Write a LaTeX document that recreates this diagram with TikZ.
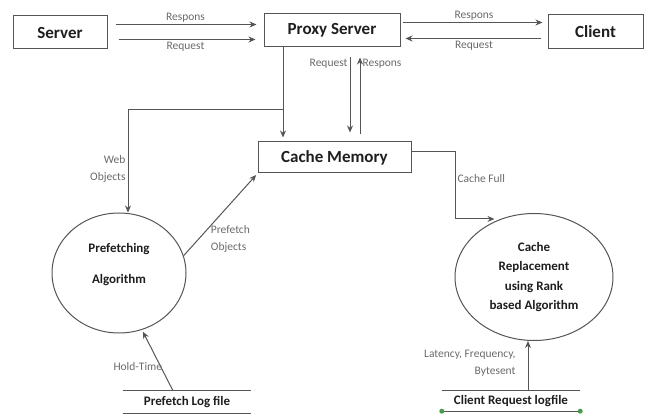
\documentclass[tikz,border=0pt]{standalone}
\usepackage{fontspec}
\setmainfont{Carlito}
\usepackage{tikz}
\usetikzlibrary{positioning}
\usetikzlibrary{shapes.geometric}
\usetikzlibrary{arrows.meta}
\definecolor{LINE}{HTML}{555555}
\definecolor{LABEL}{HTML}{6A6A6A}
\definecolor{TEXT}{HTML}{1E1E1E}
\definecolor{HANDLE}{HTML}{4C9A4C}
\tikzset{
	box/.style = {draw=LINE, line width=1pt, text=TEXT, font=\fontsize{17}{20}\selectfont\bfseries},
	algo/.style = {draw=LINE, line width=1pt, ellipse, text=TEXT, align=center,
	               font=\fontsize{13}{19.5}\selectfont\bfseries},
	logfile/.style = {text=TEXT, font=\fontsize{13}{16}\selectfont\bfseries},
	lbl/.style = {text=LABEL, font=\fontsize{11.5}{17}\selectfont, inner sep=2pt},
	arr/.style = {draw=LINE, line width=1pt, -{Stealth[length=7pt,width=6pt]}}
}
\begin{document}
\begin{tikzpicture}[x=1pt, y=-1pt]
		\useasboundingbox (0,0) rectangle (646,414);
		% boxes
		\node[box, minimum width=94pt, minimum height=33pt] (server) at (60,32.5) {Server};
		\node[box, minimum width=136pt, minimum height=33pt] (proxy) at (332,30.5) {Proxy Server};
		\node[box, minimum width=95pt, minimum height=34pt] (client) at (595.5,32) {Client};
		\node[box, minimum width=153pt, minimum height=31pt] (cache) at (334.5,157.5) {Cache Memory};
		% algorithms
		\node[algo, minimum width=134pt, minimum height=120pt] (prefetch) at (119,273) {Prefetching\\[12pt]Algorithm\\\mbox{}};
		\node[algo, minimum width=158pt, minimum height=127pt] (replace) at (534,277) {Cache\\Replacement\\using Rank\\based Algorithm};
		% log files
		\node[logfile, minimum width=128pt, minimum height=22pt] (plog) at (187,402) {Prefetch Log file};
		\node[logfile, minimum width=138pt, minimum height=20pt] (clog) at (511,401) {Client Request logfile};
		\draw[LINE, line width=1pt] (plog.north west) -- (plog.north east)
		      (plog.south west) -- (plog.south east)
		      (clog.north west) -- (clog.north east)
		      (clog.south west) -- (clog.south east);
		\fill[HANDLE] (clog.south west) circle (2.5) (clog.south east) circle (2.5);
		% server, proxy and client
		\draw[arr, shorten <=8pt, shorten >=7pt] ([yshift=8pt]server.east) -- ([yshift=8pt]server.east -| proxy.west)
		      node[lbl, above, midway] {Respons};
		\draw[arr, shorten <=11pt, shorten >=8pt] ([yshift=-9pt]proxy.west -| server.east) -- ([yshift=-9pt]proxy.west)
		      node[lbl, below, midway] {Request};
		\draw[arr, shorten <=2pt, shorten >=5pt] ([yshift=8pt]proxy.east) -- ([yshift=8pt]proxy.east -| client.west)
		      node[lbl, above, midway] {Respons};
		\draw[arr, shorten <=7pt, shorten >=5pt] ([yshift=-8pt]proxy.east -| client.west) -- ([yshift=-8pt]proxy.east)
		      node[lbl, below, midway] {Request};
		% proxy and cache
		\coordinate (split) at (283,110);
		\draw[arr, shorten >=4pt] (proxy.south -| split) -- (cache.north -| split);
		\draw[arr] (split) -| node[lbl, left, pos=.79, align=right] {Web\\Objects} ([xshift=9pt]prefetch.north);
		\draw[arr, shorten <=10pt, shorten >=9pt] ([xshift=18pt]proxy.south) -- ([xshift=18pt]proxy.south |- cache.north)
		      node[lbl, left, pos=.17] {Request};
		\draw[arr, shorten <=7pt, shorten >=10pt] ([xshift=28pt]proxy.south |- cache.north) -- ([xshift=28pt]proxy.south)
		      node[lbl, right, pos=.83] {Respons};
		% cache full
		\coordinate (fullbend) at (455,152);
		\draw[arr, shorten >=6pt] ([yshift=5.5pt]cache.east) -- (fullbend) |- node[lbl, right, pos=.2] {Cache Full} (replace.120);
		% prefetch objects and log files
		\draw[arr, shorten >=2pt] (prefetch.15) -- node[lbl, right, pos=.2, align=left, xshift=10pt] {Prefetch\\Objects} (cache.south west);
		\draw[arr, shorten >=2pt] ([xshift=-14pt]plog.north) -- node[lbl, left, pos=.4, xshift=4pt] {Hold-Time} (prefetch.-68);
		\draw[arr] ([xshift=17pt]clog.north) -- node[lbl, left, pos=.56, align=right, xshift=-10pt] {Latency, Frequency,\\Bytesent} ([xshift=17pt]clog.north |- replace.south);
	\end{tikzpicture}
\end{document}
